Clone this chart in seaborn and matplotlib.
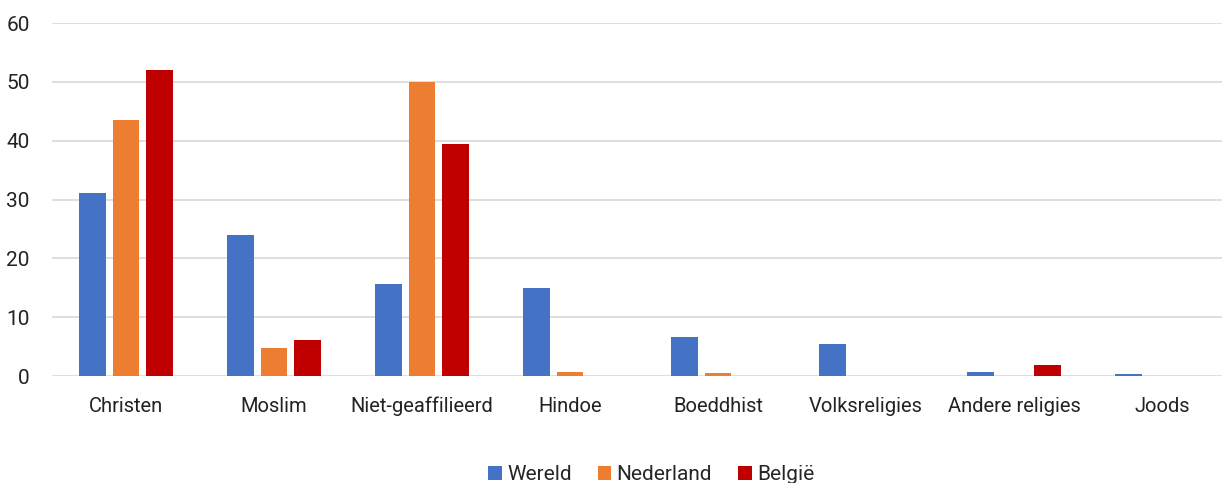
import numpy as np
import pandas as pd
import matplotlib
matplotlib.use("Agg")
import matplotlib.pyplot as plt
import seaborn as sns

# data
categories = ["Christen", "Moslim", "Niet-geaffilieerd", "Hindoe", "Boeddhist",
              "Volksreligies", "Andere religies", "Joods"]
wereld = [31.2, 23.9, 15.6, 15.0, 6.6, 5.5, 0.7, 0.3]
nederland = [43.6, 4.8, 50.0, 0.6, 0.5, 0, 0, 0]
belgie = [52.0, 6.1, 39.5, 0, 0, 0, 1.8, 0]
series = ["Wereld", "Nederland", "België"]
colors = ["#4472C4", "#ED7D31", "#C00000"]
yticks = [0, 10, 20, 30, 40, 50, 60]

df = pd.DataFrame({
    "Religie": categories * 3,
    "Waarde": wereld + nederland + belgie,
    "Reeks": [s for s in series for _ in categories],
})

sns.set_style("white")
plt.rcParams["font.family"] = ["Roboto", "DejaVu Sans"]

fig = plt.figure(figsize=(12.22, 4.83), dpi=100)
# axes runs a little past the right edge, like the reference
ax = fig.add_axes([0.0425, 0.2215, 0.969, 0.7305])

sns.barplot(data=df, x="Religie", y="Waarde", hue="Reeks", palette=colors,
            width=0.68, gap=0.2, saturation=1, linewidth=0, ax=ax, zorder=3)

ax.set_ylim(0, 60)
ax.set_yticks(yticks)
ax.set_xlim(-0.5, len(categories) - 0.5)
ax.yaxis.grid(True, color="#d9d9d9", linewidth=1.2, zorder=0)
ax.set_axisbelow(True)
for s in ax.spines.values():
    s.set_visible(False)
ax.tick_params(axis="y", length=0, pad=16, labelsize=15, labelcolor="#222222")
ax.tick_params(axis="x", length=0, pad=15, labelsize=14.5, labelcolor="#222222")
ax.set_xlabel("")
ax.set_ylabel("")

handles, labels = ax.get_legend_handles_labels()
ax.legend_.remove()
fig.legend(handles, labels, loc="lower center", bbox_to_anchor=(0.533, -0.041),
           ncol=3, frameon=False, fontsize=15, handlelength=0.65, handleheight=0.65,
           handletextpad=0.25, columnspacing=1.25)

fig.savefig("out.png", dpi=100)
